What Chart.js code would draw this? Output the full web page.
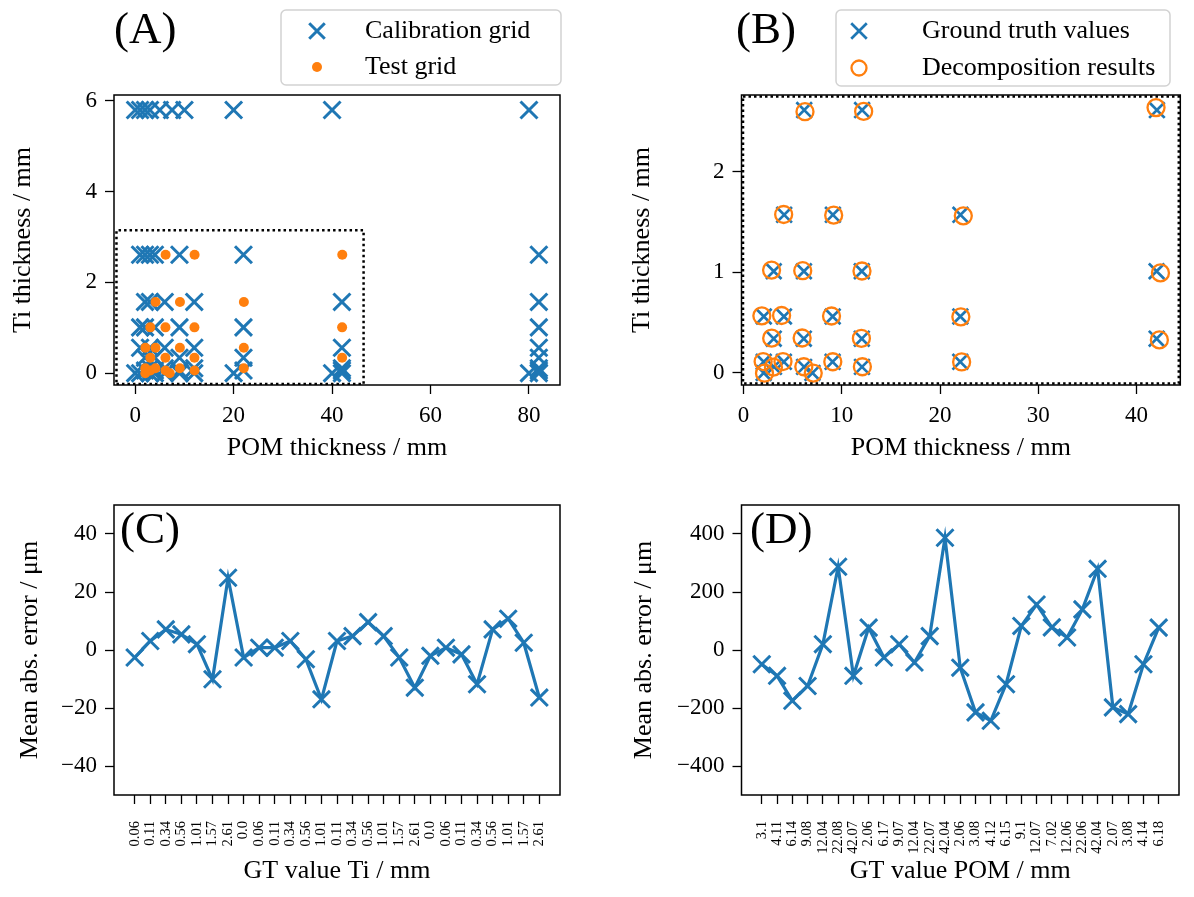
<!DOCTYPE html>
<html>
<head>
<meta charset="utf-8">
<script src="https://cdn.jsdelivr.net/npm/chart.js@4.4.1/dist/chart.umd.min.js"></script>
<style>
  body { margin:0; background:#fff; }
  #wrap { position:relative; width:1194px; height:897px; overflow:hidden; }
  canvas { position:absolute; }
</style>
</head>
<body>
<div id="wrap">
  <canvas id="chartA" width="597" height="470" style="left:0;top:0"></canvas>
  <canvas id="chartB" width="597" height="470" style="left:597px;top:0"></canvas>
  <canvas id="chartC" width="597" height="427" style="left:0;top:470px"></canvas>
  <canvas id="chartD" width="597" height="427" style="left:597px;top:470px"></canvas>
</div>
<script>
const BLUE = '#1f77b4';
const ORANGE = '#ff7f0e';
const FONT = '"Liberation Serif", "Times New Roman", serif';

// calibration grid (panel A): POM / Ti thickness in mm
const calPom = [0,1,2,3,5,7.5,10,20,40,80,
                1,2,3,4,9,22,82,
                2,3,6,12,42,82,
                1,2,4,9,22,82,
                1,3,6,12,42,82,
                2,4,9,22,82,
                3,6,12,42,82,
                2,4,9,22,42,82,
                0,1,3,4,6,9,12,20,40,42,80,82];
const calTi  = [5.8,5.8,5.8,5.8,5.8,5.8,5.8,5.8,5.8,5.8,
                2.61,2.61,2.61,2.61,2.61,2.61,2.61,
                1.57,1.57,1.57,1.57,1.57,1.57,
                1.01,1.01,1.01,1.01,1.01,1.01,
                0.56,0.56,0.56,0.56,0.56,0.56,
                0.34,0.34,0.34,0.34,0.34,
                0.11,0.11,0.11,0.11,0.11,
                0.06,0.06,0.06,0.06,0.06,0.06,
                0,0,0,0,0,0,0,0,0,0,0,0];

// test grid ground truth (panels A, B) - same order as x labels of C and D
const gtTi  = [0.06,0.11,0.34,0.56,1.01,1.57,2.61,0.0,0.06,0.11,0.34,0.56,1.01,0.11,0.34,0.56,1.01,1.57,2.61,0.0,0.06,0.11,0.34,0.56,1.01,1.57,2.61];
const gtPom = [3.1,4.11,6.14,9.08,12.04,22.08,42.07,2.06,6.17,9.07,12.04,22.07,42.04,2.06,3.08,4.12,6.15,9.1,12.07,7.02,12.06,22.06,42.04,2.07,3.08,4.14,6.18];
const tiLabels  = ['0.06','0.11','0.34','0.56','1.01','1.57','2.61','0.0','0.06','0.11','0.34','0.56','1.01','0.11','0.34','0.56','1.01','1.57','2.61','0.0','0.06','0.11','0.34','0.56','1.01','1.57','2.61'];
const pomLabels = ['3.1','4.11','6.14','9.08','12.04','22.08','42.07','2.06','6.17','9.07','12.04','22.07','42.04','2.06','3.08','4.12','6.15','9.1','12.07','7.02','12.06','22.06','42.04','2.07','3.08','4.14','6.18'];

// decomposition results (panel B)
const resTi  = [0.057,0.113,0.347,0.565,1.012,1.56,2.635,-0.003,0.061,0.111,0.343,0.557,0.993,0.113,0.345,0.57,1.015,1.567,2.597,-0.002,0.061,0.109,0.328,0.567,1.021,1.573,2.594];
const resPom = [3.05,4.02,5.97,8.96,12.06,22.37,41.98,2.14,6.14,9.09,12.0,22.12,42.43,2.0,2.87,3.88,6.03,9.18,12.23,7.1,12.1,22.2,42.32,1.87,2.86,4.09,6.26];

// errors in µm (panels C, D)
const errTi  = [-2.6,3.1,7.1,5.4,2.0,-10.1,24.9,-2.6,0.8,0.8,3.1,-3.2,-17.0,3.1,4.8,9.6,4.8,-2.6,-13.0,-2.0,0.8,-1.5,-11.8,7.1,10.8,2.5,-16.4];
const errPom = [-49,-89,-175,-124,20,287,-89,77,-26,20,-43,48,387,-61,-215,-244,-118,83,157,78,43,140,280,-198,-221,-49,77];

// dotted zoom box in A (data coords)
const boxPom = [-3.8,46.4,46.4,-3.8,-3.8];
const boxTi  = [-0.24,-0.24,3.15,3.15,-0.24];

const ticksA_x = [0,20,40,60,80], ticksA_y = [0,2,4,6];
const ticksB_x = [0,10,20,30,40], ticksB_y = [0,1,2];
const ticksC_y = [-40,-20,0,20,40], ticksD_y = [-400,-200,0,200,400];

let pts = (xs, ys) => xs.map((x, i) => ({x: x, y: ys[i]}));
let fmt = v => v < 0 ? '\u2212' + Math.abs(v) : String(v);

// frame, panel letter and legend box
let decor = {
  id: 'decor',
  afterDraw(chart, args, o) {
    let ctx = chart.ctx;
    let {left, top, right, bottom} = chart.chartArea;
    ctx.save();
    ctx.strokeStyle = '#000';
    ctx.lineWidth = 1.5;
    ctx.strokeRect(left, top, right - left, bottom - top);
    if (o.dotted) {
      ctx.setLineDash([2.5, 3]);
      ctx.lineWidth = 2.5;
      ctx.strokeRect(left + 1.5, top + 1.5, right - left - 3, bottom - top - 3);
      ctx.setLineDash([]);
    }
    ctx.fillStyle = '#000';
    ctx.font = '45px ' + FONT;
    ctx.textBaseline = 'alphabetic';
    ctx.fillText(o.letter, o.lx, o.ly);
    if (o.legend) {
      let L = o.legend;
      ctx.fillStyle = 'rgba(255,255,255,0.8)';
      ctx.strokeStyle = '#d2d2d2';
      ctx.lineWidth = 1.5;
      ctx.beginPath();
      ctx.roundRect(L.x, L.y, L.w, L.h, 5);
      ctx.fill();
      ctx.stroke();
      let items = chart.data.datasets.filter(d => d.label).sort((a, b) => a.legendPos - b.legendPos);
      items.forEach((d, i) => {
        let y = L.y + L.first + i * L.step;
        ctx.strokeStyle = d.borderColor;
        ctx.fillStyle = d.backgroundColor;
        ctx.lineWidth = d.borderWidth;
        Chart.helpers.drawPoint(ctx, {pointStyle: d.pointStyle, radius: d.legendRadius, rotation: 0, borderWidth: d.borderWidth}, L.x + L.mx, y);
        ctx.fillStyle = '#000';
        ctx.font = '26px ' + FONT;
        ctx.textBaseline = 'middle';
        ctx.fillText(d.label, L.x + L.tx, y);
      });
    }
    ctx.restore();
  }
};

let axis = (min, max, ticks, title, opt) => ({
  type: 'linear', min: min, max: max,
  afterBuildTicks: s => { s.ticks = ticks.map(v => ({value: v})); },
  afterFit: s => { if (opt.width) s.width = opt.width; if (opt.height) s.height = opt.height; },
  grid: {drawOnChartArea: false, drawTicks: true, tickLength: 9, tickColor: '#000', tickWidth: 1.3},
  border: {display: false},
  ticks: {color: '#000', font: {family: FONT, size: opt.tickSize || 23}, padding: opt.tickPad || 8,
          autoSkip: false, maxRotation: opt.rot || 0, minRotation: opt.rot || 0,
          callback: opt.labels ? (v => opt.labels[v]) : fmt},
  title: {display: true, text: title, color: '#000', font: {family: FONT, size: 26}, padding: opt.titlePad}
});

let baseOpts = (pad, x, y, deco) => ({
  responsive: false, animation: false, devicePixelRatio: 1,
  layout: {padding: pad},
  plugins: {legend: {display: false}, tooltip: {enabled: false}, decor: deco},
  scales: {x: x, y: y}
});

// (A)
new Chart(document.getElementById('chartA'), {
  type: 'scatter',
  data: {datasets: [
    {label: 'Calibration grid', legendPos: 0, data: pts(calPom, calTi), pointStyle: 'crossRot', pointRadius: 12, legendRadius: 11,
     borderColor: BLUE, backgroundColor: BLUE, borderWidth: 3, order: 2, clip: false},
    {label: 'Test grid', legendPos: 1, data: pts(gtPom, gtTi), pointStyle: 'circle', pointRadius: 5, legendRadius: 5,
     borderColor: ORANGE, backgroundColor: ORANGE, borderWidth: 0, order: 1, clip: false},
    {type: 'line', data: pts(boxPom, boxTi), borderColor: '#000', borderWidth: 2.5, borderDash: [2.5, 3],
     pointRadius: 0, fill: false, order: 0}
  ]},
  options: baseOpts({top: 95, right: 37, left: 0, bottom: 0},
    axis(-4.3, 86.3, ticksA_x, 'POM thickness / mm', {height: 85, tickPad: 8, titlePad: {bottom: 6}}),
    axis(-0.26, 6.13, ticksA_y, 'Ti thickness / mm', {width: 114, titlePad: {top: 8}}),
    {letter: '(A)', lx: 114, ly: 43,
     legend: {x: 281, y: 10, w: 280, h: 75, first: 21, step: 36, mx: 36, tx: 84}}),
  plugins: [decor]
});

// (B)
new Chart(document.getElementById('chartB'), {
  type: 'scatter',
  data: {datasets: [
    {label: 'Ground truth values', legendPos: 0, data: pts(gtPom, gtTi), pointStyle: 'crossRot', pointRadius: 11, legendRadius: 11,
     borderColor: BLUE, backgroundColor: BLUE, borderWidth: 2.7, order: 2, clip: false},
    {label: 'Decomposition results', legendPos: 1, data: pts(resPom, resTi), pointStyle: 'circle', pointRadius: 8.5, legendRadius: 7.5,
     borderColor: ORANGE, backgroundColor: 'rgba(0,0,0,0)', borderWidth: 2.3, order: 1, clip: false}
  ]},
  options: baseOpts({top: 95, right: 7.5, left: 0, bottom: 0},
    axis(-0.2, 44.45, ticksB_x, 'POM thickness / mm', {height: 85, tickPad: 8, titlePad: {bottom: 6}}),
    axis(-0.12, 2.76, ticksB_y, 'Ti thickness / mm', {width: 144.5, titlePad: {top: 30}}),
    {letter: '(B)', lx: 139, ly: 43, dotted: true,
     legend: {x: 239, y: 10, w: 334, h: 76, first: 21, step: 37, mx: 23, tx: 86}}),
  plugins: [decor]
});

// (C)
new Chart(document.getElementById('chartC'), {
  type: 'line',
  data: {datasets: [
    {data: pts(errTi.map((v, i) => i), errTi), borderColor: BLUE, backgroundColor: BLUE, borderWidth: 3.2,
     pointStyle: 'crossRot', pointRadius: 12, pointBorderWidth: 3, tension: 0, fill: false}
  ]},
  options: baseOpts({top: 35, right: 37, left: 0, bottom: 0},
    axis(-1.33, 27.33, tiLabels.map((v, i) => i), 'GT value Ti / mm', {height: 102, tickSize: 14.5, rot: 90, tickPad: 17, labels: tiLabels, titlePad: {bottom: 10}}),
    axis(-50, 50, ticksC_y, 'Mean abs. error / \u03bcm', {width: 114, titlePad: {top: 15}}),
    {letter: '(C)', lx: 120, ly: 73}),
  plugins: [decor]
});

// (D)
new Chart(document.getElementById('chartD'), {
  type: 'line',
  data: {datasets: [
    {data: pts(errPom.map((v, i) => i), errPom), borderColor: BLUE, backgroundColor: BLUE, borderWidth: 3.2,
     pointStyle: 'crossRot', pointRadius: 12, pointBorderWidth: 3, tension: 0, fill: false}
  ]},
  options: baseOpts({top: 35, right: 7.5, left: 0, bottom: 0},
    axis(-1.33, 27.33, pomLabels.map((v, i) => i), 'GT value POM / mm', {height: 102, tickSize: 14.5, rot: 90, tickPad: 17, labels: pomLabels, titlePad: {bottom: 10}}),
    axis(-500, 500, ticksD_y, 'Mean abs. error / \u03bcm', {width: 144.5, titlePad: {top: 32}}),
    {letter: '(D)', lx: 153, ly: 73}),
  plugins: [decor]
});
</script>
</body>
</html>
